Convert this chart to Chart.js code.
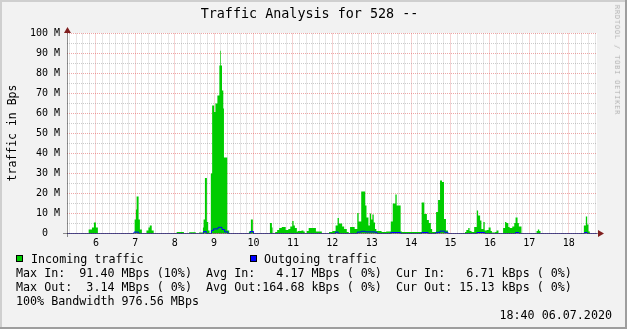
<!DOCTYPE html>
<html>
<head>
<meta charset="utf-8">
<script src="https://cdn.jsdelivr.net/npm/chart.js@4.4.0/dist/chart.umd.min.js"></script>
<style>
  html, body { margin: 0; padding: 0; background: #f2f2f2; }
  #frame { position: relative; width: 627px; height: 329px; overflow: hidden;
    font-family: 'DejaVu Sans Mono', monospace; color: #000; }
  #frame canvas { position: absolute; left: 0; top: 0; }
  .txt { position: absolute; white-space: pre; font-size: 11.7px; line-height: 14px; }
  .box { position: absolute; width: 5px; height: 5px; border: 1px solid #000; }
  #title { position: absolute; left: 0; width: 619px; top: 5px; text-align: center;
    font-size: 13.4px; line-height: 17px; white-space: pre; }
  #ytitle { position: absolute; left: 12px; top: 133px; font-size: 11.5px; line-height: 14px;
    white-space: pre; transform: translate(-50%, -50%) rotate(-90deg); }
  #mark { position: absolute; left: 617px; top: 60px; font-size: 7px; line-height: 8px;
    letter-spacing: 0.8px; color: #b4b4b4; white-space: pre;
    transform: translate(-50%, -50%) rotate(90deg); }
</style>
</head>
<body>
<div id="frame">
  <canvas id="rrd" width="627" height="329"></canvas>
  <div id="title">Traffic Analysis for 528 --</div>
  <div id="ytitle">traffic in Bps</div>
  <div id="mark">RRDTOOL / TOBI OETIKER</div>
  <div class="box" style="left:16px; top:255px; background:#00cc00"></div>
  <div class="txt" style="left:31px; top:252px">Incoming traffic</div>
  <div class="box" style="left:250px; top:255px; background:#0000ff"></div>
  <div class="txt" style="left:264px; top:252px">Outgoing traffic</div>
  <div class="txt" style="left:16px; top:266px">Max In:  91.40 MBps (10%)  Avg In:   4.17 MBps ( 0%)  Cur In:   6.71 kBps ( 0%)</div>
  <div class="txt" style="left:16px; top:280px">Max Out:  3.14 MBps ( 0%)  Avg Out:164.68 kBps ( 0%)  Cur Out: 15.13 kBps ( 0%)</div>
  <div class="txt" style="left:16px; top:294px">100% Bandwidth 976.56 MBps</div>
  <div class="txt" style="right:15px; top:308px">18:40 06.07.2020</div>
</div>
<script>
// incoming traffic, MBps; each value holds from its time until the next one
const inTimes = [
  '5:16', '5:49', '5:54', '5:57', '6:00', '6:03',
  '6:59', '7:01', '7:02', '7:05', '7:07', '7:10',
  '7:17', '7:20', '7:22', '7:25', '7:28',
  '8:03', '8:14', '8:22', '8:32', '8:37',
  '8:43', '8:44', '8:46', '8:49', '8:51', '8:53',
  '8:55', '8:57', '9:00', '9:02', '9:05', '9:08', '9:09', '9:10', '9:12', '9:14', '9:15', '9:20', '9:23',
  '9:53', '9:56', '9:59', '10:00',
  '10:25', '10:28', '10:29',
  '10:33', '10:36', '10:39', '10:43', '10:49', '10:53', '10:56', '10:59', '11:01', '11:03', '11:06',
  '11:07', '11:13', '11:16', '11:18',
  '11:21', '11:24', '11:35', '11:44',
  '11:55', '12:00', '12:05', '12:08', '12:10', '12:15', '12:18', '12:22', '12:25',
  '12:27', '12:34', '12:38', '12:40', '12:44', '12:50', '12:52', '12:55', '12:57', '12:59',
  '13:01', '13:03', '13:05', '13:07', '13:15', '13:22',
  '13:29', '13:32', '13:36', '13:38', '13:44', '13:46',
  '14:16', '14:20', '14:24', '14:27', '14:30', '14:32',
  '14:38', '14:41', '14:44', '14:47', '14:50', '14:53', '14:56',
  '15:22', '15:24', '15:27', '15:29', '15:32', '15:36', '15:40', '15:42', '15:45', '15:47',
  '15:50', '15:52', '15:55', '15:58', '16:01', '16:03', '16:08', '16:10', '16:13',
  '16:20', '16:23', '16:25', '16:28', '16:30', '16:34', '16:37', '16:39', '16:42', '16:44', '16:48',
  '17:11', '17:13', '17:15', '17:17',
  '18:23', '18:26', '18:28', '18:30', '18:32', '18:43'
];
const inValues = [
  0, 2, 3, 5.5, 3, 0,
  7, 12, 18.5, 7, 2, 0,
  1.5, 3, 4, 1.5, 0,
  0.7, 0, 0.6, 0, 0.5,
  3, 7, 27.7, 5.7, 1.5, 0,
  30, 64, 60.7, 65, 69, 84, 91.4, 84, 71.5, 62.5, 38, 1.5, 0,
  1, 7, 1, 0,
  5.2, 3, 0,
  0.8, 1.8, 2.7, 3.2, 1.8, 2.3, 3.5, 6.2, 4, 2.7, 0.8,
  1.2, 1.5, 1, 0,
  1.2, 2.8, 1, 0,
  0.8, 1.2, 4, 7.7, 5, 3.5, 2.3, 0.8, 0,
  3.2, 2.3, 10.3, 6, 21, 14, 8, 4, 10, 7,
  9.5, 5.5, 2.3, 1.2, 0.7, 1,
  6, 15, 19.5, 14, 1, 0.8,
  15.5, 9.8, 6.8, 5.2, 2.3, 0.7,
  10.7, 16.8, 26.5, 25.7, 7.3, 1.5, 0,
  0.8, 1.8, 2.7, 1.2, 0.7, 3.2, 11.5, 9, 6.5, 2.3,
  5.7, 1.5, 1.8, 3, 1.2, 0.5, 0.7, 1.5, 0,
  2.7, 5.7, 5.2, 3.2, 2.7, 3.5, 5.2, 8, 5.2, 3.5, 0,
  1.2, 2, 1.2, 0,
  4, 8.5, 4.5, 1, 0, 0
];

// outgoing traffic, MBps
const outTimes = [
  '5:16', '6:58', '7:05', '8:44', '8:48',
  '8:56', '8:59', '9:06', '9:12', '9:16', '9:21',
  '9:55', '10:00', '12:05', '12:09',
  '12:38', '12:44', '12:50', '13:05', '13:08',
  '13:29', '13:44', '14:16', '14:26',
  '14:38', '14:44', '14:51', '14:56',
  '15:40', '15:52', '16:39', '16:44', '18:24', '18:28', '18:43'
];
const outValues = [
  0, 0.7, 0, 1, 0,
  1.5, 2.3, 3.1, 2, 0.8, 0,
  1, 0, 0.7, 0,
  0.7, 1.1, 0.8, 0.6, 0,
  0.5, 0, 0.5, 0,
  0.6, 1.2, 0.6, 0,
  0.5, 0, 0.5, 0, 0.5, 0, 0
];

const startTime = '5:16';
const endTime = '18:43';

const majorGrid = 'rgba(222,79,79,0.5)';
const minorGrid = 'rgba(143,143,143,0.45)';

function toMin(s) {
  const [h, m] = s.split(':').map(Number);
  return h * 60 + m;
}

function toPoints(times, values) {
  return times.map((t, i) => ({ x: toMin(t), y: values[i] }));
}

// background, white canvas and 3d border
const framePlugin = {
  id: 'frame',
  beforeDraw(chart) {
    const c = chart.ctx, a = chart.chartArea;
    c.save();
    c.fillStyle = '#f2f2f2';
    c.fillRect(0, 0, chart.width, chart.height);
    c.fillStyle = '#cfcfcf';
    c.fillRect(0, 0, chart.width, 2);
    c.fillRect(0, 0, 2, chart.height);
    c.fillStyle = '#9e9e9e';
    c.fillRect(0, chart.height - 2, chart.width, 2);
    c.fillRect(chart.width - 2, 0, 2, chart.height);
    c.fillStyle = '#ffffff';
    c.fillRect(a.left, Math.floor(a.top), a.right - a.left, Math.ceil(a.bottom) - Math.floor(a.top));
    c.restore();
  },
  afterDatasetsDraw(chart) {
    const c = chart.ctx;
    const y0 = 233.5, x0 = 67.5;
    c.save();
    c.lineWidth = 1;
    c.strokeStyle = 'rgba(31,31,31,0.5)';
    c.beginPath();
    c.moveTo(63, y0); c.lineTo(598, y0);
    c.moveTo(x0, 237); c.lineTo(x0, 32);
    c.stroke();
    c.fillStyle = '#801f1f';
    c.beginPath();
    c.moveTo(598, y0 - 3.5); c.lineTo(604, y0); c.lineTo(598, y0 + 3.5); c.closePath();
    c.fill();
    c.beginPath();
    c.moveTo(x0 - 3.5, 33); c.lineTo(x0, 27); c.lineTo(x0 + 3.5, 33); c.closePath();
    c.fill();
    c.restore();
  }
};

const tickFont = { family: 'DejaVu Sans Mono', size: 10 };

new Chart(document.getElementById('rrd'), {
  type: 'line',
  data: {
    datasets: [
      {
        label: 'Outgoing traffic',
        data: toPoints(outTimes, outValues),
        stepped: true,
        borderColor: '#0000ff',
        borderWidth: 1,
        pointRadius: 0,
        fill: false,
        order: 1
      },
      {
        label: 'Incoming traffic',
        data: toPoints(inTimes, inValues),
        stepped: true,
        borderWidth: 0,
        borderColor: 'rgba(0,0,0,0)',
        backgroundColor: '#00cc00',
        pointRadius: 0,
        fill: 'origin',
        order: 2
      }
    ]
  },
  options: {
    responsive: false,
    animation: false,
    devicePixelRatio: 1,
    layout: { padding: { top: 33.5, right: 30, left: 0, bottom: 0 } },
    plugins: { legend: { display: false }, tooltip: { enabled: false } },
    scales: {
      x: {
        type: 'linear',
        min: toMin(startTime),
        max: toMin(endTime),
        afterFit: s => { s.height = 95.5; },
        ticks: {
          stepSize: 10,
          includeBounds: false,
          autoSkip: false,
          maxRotation: 0,
          padding: 4,
          color: '#000',
          font: tickFont,
          callback: v => (v % 60 === 0 ? String(v / 60) : '')
        },
        grid: {
          drawTicks: false,
          lineWidth: 1,
          color: ctx => (ctx.tick && ctx.tick.value % 60 === 0 ? majorGrid : minorGrid)
        },
        border: { display: false, dash: [1, 1] }
      },
      y: {
        min: 0,
        max: 100,
        afterFit: s => { s.width = 67; },
        ticks: {
          stepSize: 5,
          autoSkip: false,
          padding: 7,
          color: '#000',
          font: tickFont,
          callback: v => (v % 10 !== 0 ? '' : (v === 0 ? '0  ' : v + ' M'))
        },
        grid: {
          drawTicks: false,
          lineWidth: 1,
          color: ctx => (ctx.tick && ctx.tick.value % 10 === 0 ? majorGrid : minorGrid)
        },
        border: { display: false, dash: [1, 1] }
      }
    }
  },
  plugins: [framePlugin]
});
</script>
</body>
</html>
